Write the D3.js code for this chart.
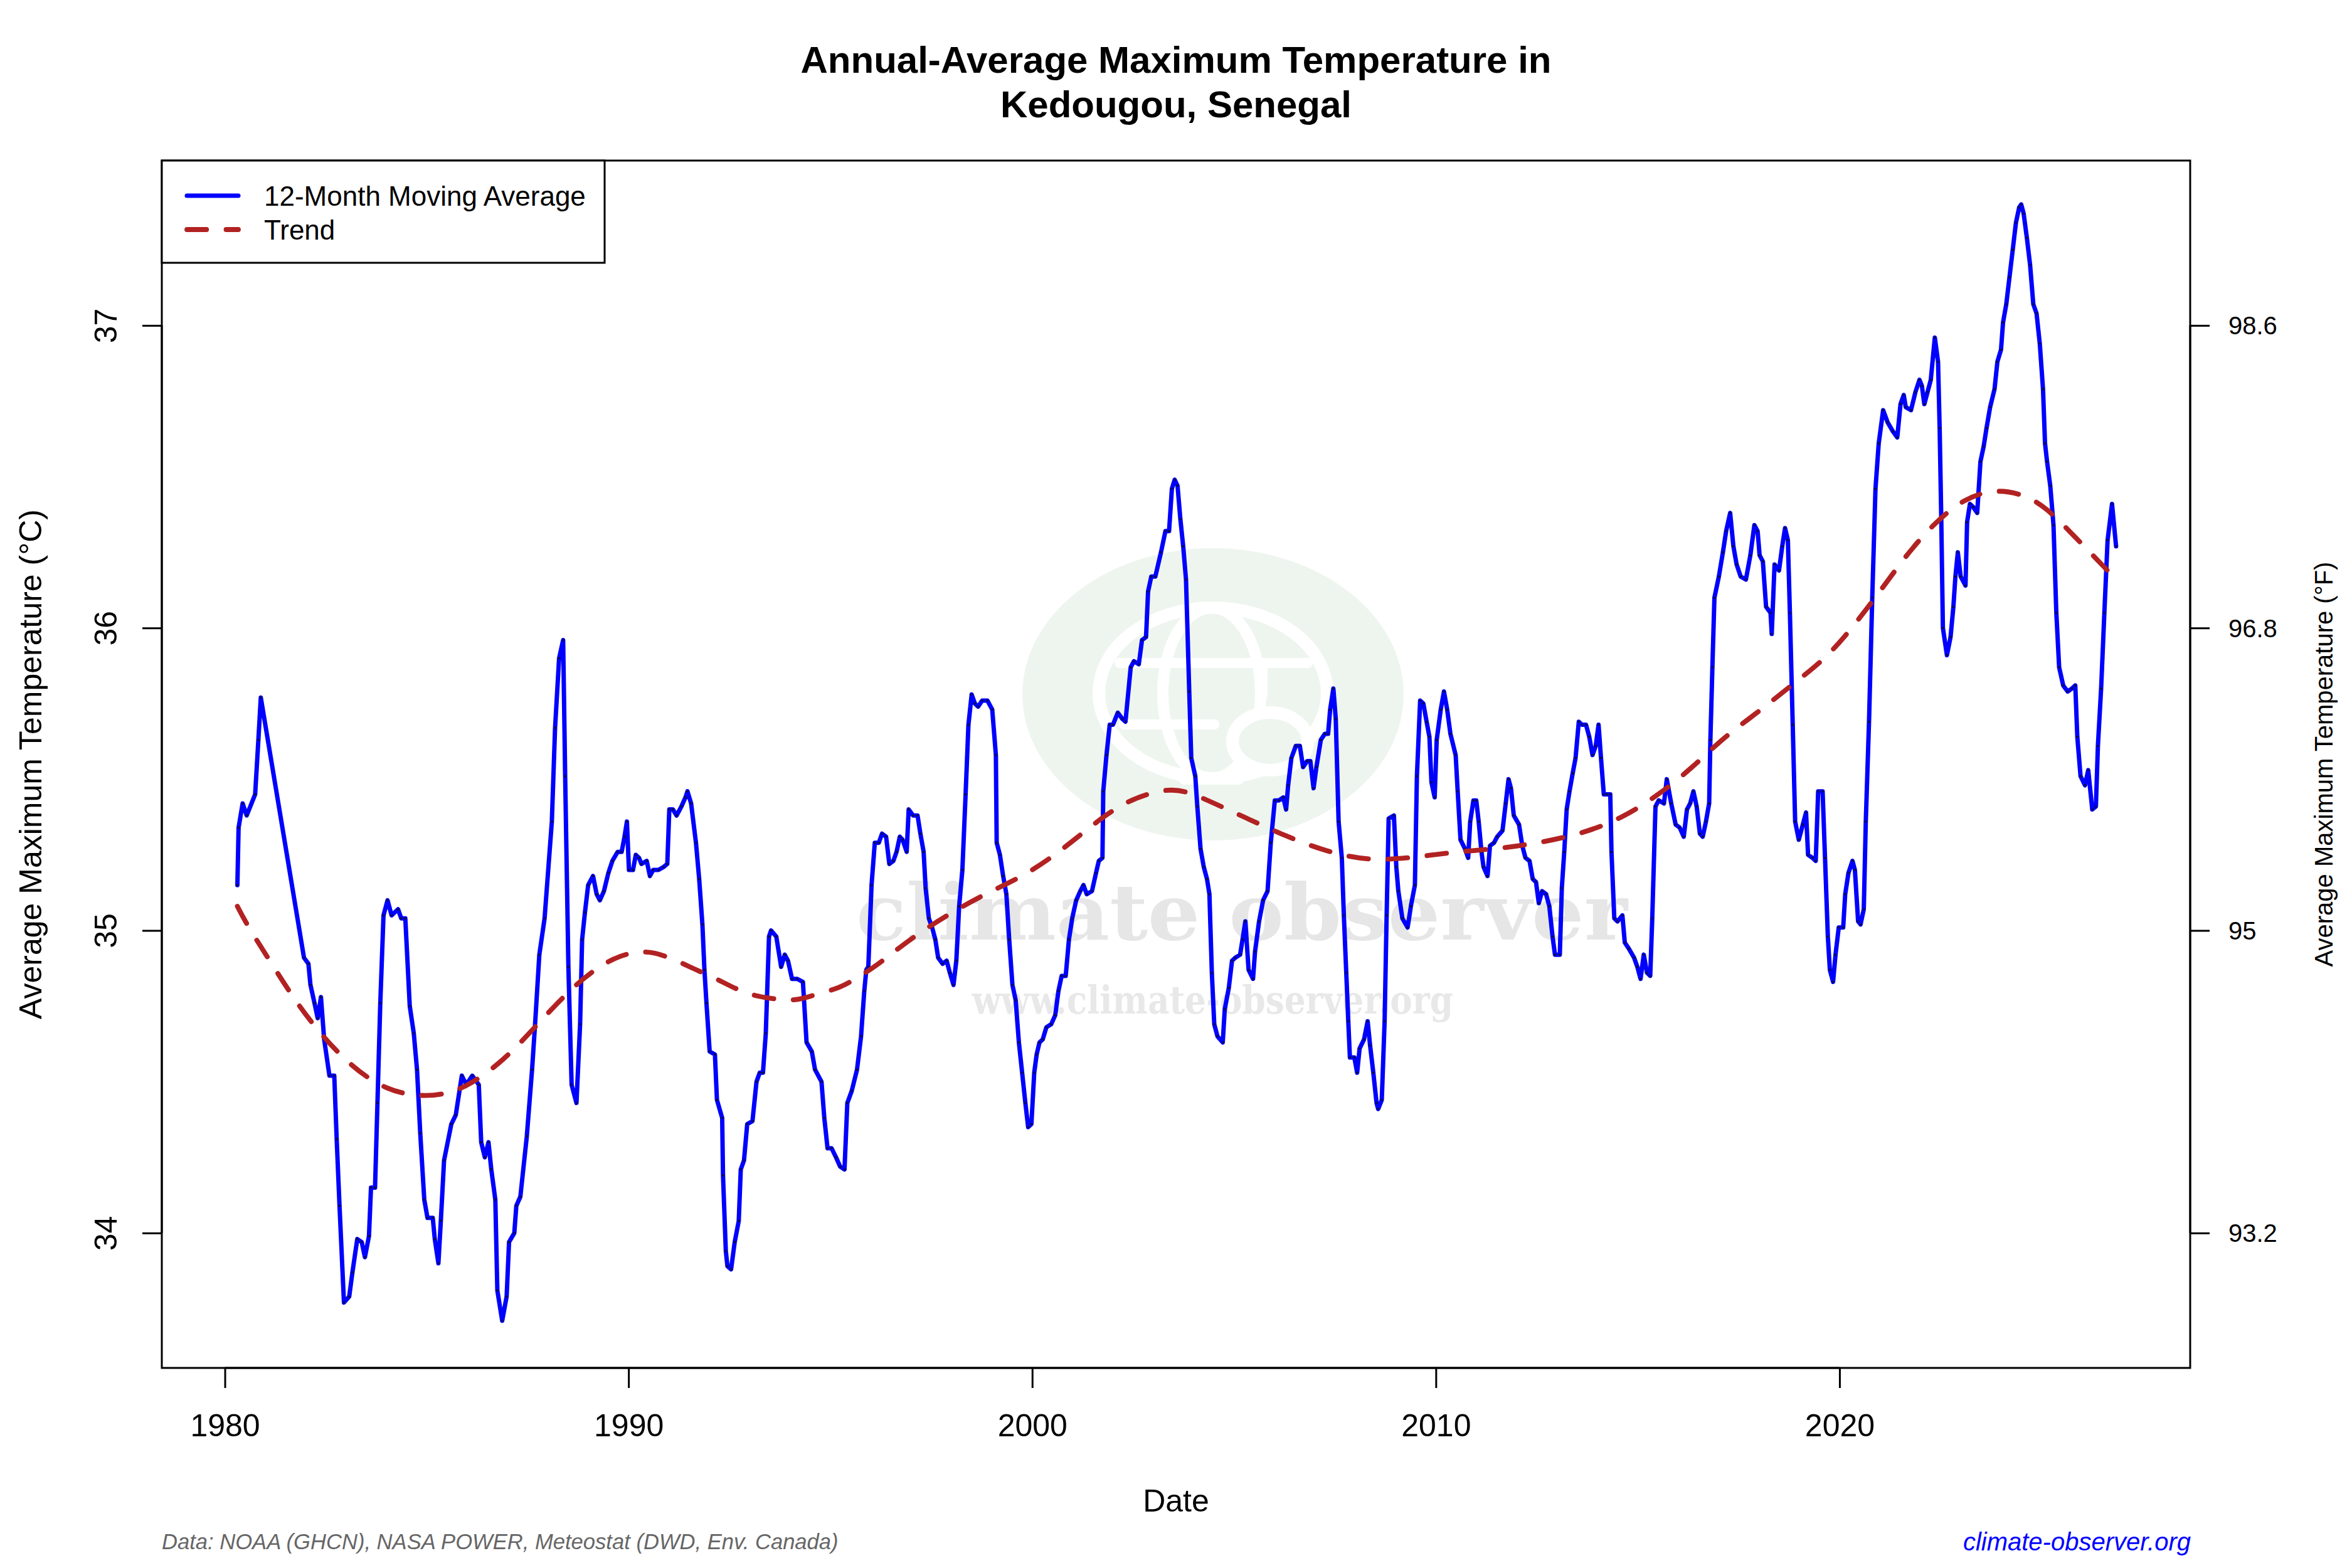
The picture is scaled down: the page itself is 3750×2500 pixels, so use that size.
<!DOCTYPE html>
<html>
<head>
<meta charset="utf-8">
<script src="https://cdn.jsdelivr.net/npm/d3@7"></script>
<style>
  html, body { margin: 0; padding: 0; background: #fff; }
  svg { display: block; }
  text { font-family: "Liberation Sans", Arial, Helvetica, sans-serif; }
</style>
</head>
<body>
<svg id="chart" width="3750" height="2500"></svg>
<script>
// 12-month moving average (decimal year, °C)
const years = [
  1980.31, 1980.34, 1980.44, 1980.54, 1980.75, 1980.83, 1980.89, 1981.96, 1982.07, 1982.12,
  1982.22, 1982.30, 1982.38, 1982.46, 1982.59, 1982.71, 1982.77, 1982.84, 1982.95, 1983.08,
  1983.16, 1983.28, 1983.39, 1983.47, 1983.57, 1983.62, 1983.72, 1983.78, 1983.85, 1983.93,
  1984.03, 1984.13, 1984.29, 1984.37, 1984.47, 1984.58, 1984.68, 1984.76, 1984.84, 1984.94,
  1985.02, 1985.15, 1985.20, 1985.29, 1985.35, 1985.43, 1985.61, 1985.72, 1985.87, 1985.98,
  1986.13, 1986.29, 1986.35, 1986.44, 1986.53, 1986.60, 1986.70, 1986.75, 1986.87, 1986.98,
  1987.04, 1987.17, 1987.22, 1987.32, 1987.48, 1987.61, 1987.68, 1987.79, 1987.92, 1988.10,
  1988.18, 1988.28, 1988.38, 1988.43, 1988.51, 1988.59, 1988.71, 1988.80, 1988.85, 1988.92,
  1989.00, 1989.12, 1989.21, 1989.29, 1989.39, 1989.50, 1989.60, 1989.73, 1989.83, 1989.90,
  1989.96, 1990.01, 1990.11, 1990.18, 1990.26, 1990.32, 1990.45, 1990.53, 1990.61, 1990.74,
  1990.87, 1990.96, 1991.01, 1991.10, 1991.19, 1991.31, 1991.41, 1991.46, 1991.55, 1991.67,
  1991.75, 1991.83, 1991.88, 1991.93, 1992.01, 1992.14, 1992.19, 1992.32, 1992.34, 1992.41,
  1992.45, 1992.54, 1992.63, 1992.73, 1992.78, 1992.86, 1992.94, 1993.07, 1993.17, 1993.25,
  1993.33, 1993.40, 1993.48, 1993.53, 1993.66, 1993.78, 1993.87, 1993.95, 1994.05, 1994.18,
  1994.32, 1994.41, 1994.54, 1994.62, 1994.78, 1994.85, 1994.93, 1995.03, 1995.14, 1995.24,
  1995.35, 1995.42, 1995.53, 1995.66, 1995.76, 1995.84, 1995.89, 1995.94, 1996.02, 1996.10,
  1996.20, 1996.28, 1996.38, 1996.46, 1996.56, 1996.64, 1996.72, 1996.79, 1996.89, 1996.94,
  1997.05, 1997.16, 1997.23, 1997.31, 1997.36, 1997.44, 1997.52, 1997.60, 1997.67, 1997.78,
  1997.88, 1997.96, 1998.05, 1998.12, 1998.19, 1998.27, 1998.35, 1998.42, 1998.50, 1998.58,
  1998.66, 1998.76, 1998.89, 1999.01, 1999.10, 1999.12, 1999.20, 1999.28, 1999.36, 1999.43,
  1999.51, 1999.59, 1999.67, 1999.75, 1999.83, 1999.90, 1999.98, 2000.05, 2000.11, 2000.18,
  2000.26, 2000.35, 2000.47, 2000.57, 2000.65, 2000.73, 2000.83, 2000.91, 2000.99, 2001.09,
  2001.19, 2001.27, 2001.35, 2001.48, 2001.58, 2001.65, 2001.74, 2001.76, 2001.84, 2001.92,
  2002.00, 2002.12, 2002.23, 2002.31, 2002.44, 2002.52, 2002.64, 2002.72, 2002.82, 2002.87,
  2002.95, 2003.05, 2003.19, 2003.30, 2003.39, 2003.46, 2003.53, 2003.60, 2003.67, 2003.74,
  2003.81, 2003.89, 2003.94, 2004.04, 2004.09, 2004.17, 2004.25, 2004.33, 2004.39, 2004.45,
  2004.51, 2004.59, 2004.72, 2004.77, 2004.87, 2004.95, 2005.03, 2005.15, 2005.21, 2005.28,
  2005.36, 2005.47, 2005.52, 2005.62, 2005.72, 2005.83, 2005.91, 2006.01, 2006.11, 2006.22,
  2006.29, 2006.34, 2006.42, 2006.53, 2006.63, 2006.71, 2006.81, 2006.89, 2006.97, 2007.04,
  2007.15, 2007.25, 2007.33, 2007.38, 2007.46, 2007.52, 2007.59, 2007.67, 2007.72, 2007.78,
  2007.83, 2007.87, 2007.98, 2008.05, 2008.11, 2008.22, 2008.31, 2008.37, 2008.45, 2008.53,
  2008.57, 2008.66, 2008.73, 2008.78, 2008.83, 2008.96, 2009.02, 2009.07, 2009.17, 2009.30,
  2009.38, 2009.48, 2009.53, 2009.61, 2009.69, 2009.77, 2009.84, 2009.89, 2009.97, 2010.02,
  2010.12, 2010.20, 2010.28, 2010.36, 2010.49, 2010.54, 2010.61, 2010.72, 2010.80, 2010.85,
  2010.93, 2011.00, 2011.06, 2011.13, 2011.18, 2011.28, 2011.34, 2011.44, 2011.52, 2011.65,
  2011.73, 2011.80, 2011.86, 2011.93, 2012.06, 2012.14, 2012.22, 2012.32, 2012.40, 2012.48,
  2012.55, 2012.63, 2012.73, 2012.81, 2012.89, 2012.95, 2013.07, 2013.12, 2013.18, 2013.24,
  2013.31, 2013.39, 2013.46, 2013.54, 2013.62, 2013.72, 2013.80, 2013.88, 2013.96, 2014.03,
  2014.09, 2014.16, 2014.24, 2014.32, 2014.35, 2014.42, 2014.50, 2014.62, 2014.68, 2014.78,
  2014.91, 2014.99, 2015.07, 2015.15, 2015.23, 2015.31, 2015.36, 2015.44, 2015.52, 2015.65,
  2015.72, 2015.83, 2015.94, 2016.04, 2016.14, 2016.22, 2016.30, 2016.38, 2016.46, 2016.54,
  2016.61, 2016.69, 2016.77, 2016.80, 2016.85, 2016.90, 2017.01, 2017.11, 2017.19, 2017.29,
  2017.37, 2017.45, 2017.55, 2017.68, 2017.79, 2017.89, 2017.97, 2018.02, 2018.10, 2018.18,
  2018.29, 2018.32, 2018.39, 2018.50, 2018.58, 2018.65, 2018.72, 2018.77, 2018.84, 2018.90,
  2018.99, 2019.09, 2019.17, 2019.22, 2019.33, 2019.41, 2019.47, 2019.58, 2019.64, 2019.71,
  2019.76, 2019.84, 2019.90, 2019.98, 2020.09, 2020.14, 2020.22, 2020.32, 2020.38, 2020.46,
  2020.52, 2020.60, 2020.65, 2020.73, 2020.81, 2020.89, 2020.97, 2021.08, 2021.19, 2021.32,
  2021.43, 2021.51, 2021.59, 2021.64, 2021.77, 2021.88, 2021.98, 2022.04, 2022.10, 2022.18,
  2022.26, 2022.36, 2022.44, 2022.48, 2022.52, 2022.56, 2022.66, 2022.75, 2022.82, 2022.87,
  2022.93, 2023.00, 2023.12, 2023.16, 2023.23, 2023.31, 2023.41, 2023.49, 2023.57, 2023.64,
  2023.73, 2023.84, 2023.91, 2024.00, 2024.05, 2024.13, 2024.21, 2024.29, 2024.37, 2024.45,
  2024.50, 2024.56, 2024.64, 2024.72, 2024.80, 2024.88, 2024.96, 2025.04, 2025.09, 2025.14,
  2025.22, 2025.30, 2025.37, 2025.44, 2025.54, 2025.65, 2025.76, 2025.84, 2025.89, 2025.97,
  2026.08, 2026.16, 2026.26, 2026.35, 2026.40, 2026.48, 2026.56, 2026.64, 2026.75, 2026.85
];
const tempC = [
  35.15, 35.34, 35.42, 35.38, 35.45, 35.63, 35.77, 34.91, 34.89, 34.82,
  34.76, 34.71, 34.78, 34.64, 34.52, 34.52, 34.31, 34.09, 33.77, 33.79,
  33.87, 33.98, 33.97, 33.92, 33.99, 34.15, 34.15, 34.43, 34.76, 35.05,
  35.10, 35.05, 35.07, 35.04, 35.04, 34.75, 34.66, 34.54, 34.33, 34.11,
  34.05, 34.05, 33.98, 33.90, 34.04, 34.24, 34.36, 34.39, 34.52, 34.49,
  34.52, 34.49, 34.30, 34.25, 34.30, 34.21, 34.11, 33.81, 33.71, 33.79,
  33.97, 34.00, 34.09, 34.12, 34.32, 34.54, 34.68, 34.92, 35.04, 35.36,
  35.67, 35.90, 35.96, 35.51, 34.88, 34.49, 34.43, 34.69, 34.97, 35.06,
  35.15, 35.18, 35.12, 35.10, 35.13, 35.19, 35.23, 35.26, 35.26, 35.31,
  35.36, 35.20, 35.20, 35.25, 35.24, 35.22, 35.23, 35.18, 35.20, 35.20,
  35.21, 35.22, 35.40, 35.40, 35.38, 35.41, 35.44, 35.46, 35.42, 35.29,
  35.17, 35.02, 34.87, 34.76, 34.60, 34.59, 34.44, 34.38, 34.19, 33.94,
  33.89, 33.88, 33.97, 34.04, 34.21, 34.24, 34.36, 34.37, 34.50, 34.53,
  34.53, 34.66, 34.98, 35.00, 34.98, 34.88, 34.92, 34.90, 34.84, 34.84,
  34.83, 34.63, 34.60, 34.54, 34.50, 34.38, 34.28, 34.28, 34.25, 34.22,
  34.21, 34.43, 34.47, 34.54, 34.65, 34.80, 34.87, 34.88, 35.15, 35.29,
  35.29, 35.32, 35.31, 35.22, 35.23, 35.26, 35.31, 35.30, 35.26, 35.40,
  35.38, 35.38, 35.32, 35.26, 35.14, 35.04, 35.01, 34.97, 34.91, 34.89,
  34.90, 34.86, 34.82, 34.90, 35.08, 35.20, 35.45, 35.68, 35.78, 35.75,
  35.74, 35.76, 35.76, 35.73, 35.58, 35.29, 35.25, 35.18, 35.12, 34.97,
  34.82, 34.77, 34.63, 34.53, 34.43, 34.35, 34.36, 34.53, 34.59, 34.63,
  34.64, 34.68, 34.69, 34.72, 34.80, 34.85, 34.85, 34.97, 35.04, 35.10,
  35.13, 35.15, 35.12, 35.13, 35.19, 35.23, 35.24, 35.46, 35.58, 35.68,
  35.68, 35.72, 35.70, 35.69, 35.87, 35.89, 35.88, 35.96, 35.97, 36.12,
  36.17, 36.17, 36.25, 36.32, 36.32, 36.46, 36.49, 36.47, 36.36, 36.27,
  36.16, 35.79, 35.57, 35.51, 35.41, 35.27, 35.21, 35.17, 35.12, 34.86,
  34.69, 34.65, 34.63, 34.74, 34.81, 34.90, 34.91, 34.92, 34.97, 35.03,
  34.87, 34.84, 34.93, 35.03, 35.10, 35.13, 35.29, 35.43, 35.43, 35.44,
  35.40, 35.48, 35.57, 35.61, 35.61, 35.54, 35.56, 35.56, 35.47, 35.54,
  35.63, 35.65, 35.65, 35.73, 35.80, 35.70, 35.36, 35.24, 35.05, 34.86,
  34.70, 34.58, 34.58, 34.53, 34.61, 34.64, 34.70, 34.62, 34.53, 34.43,
  34.41, 34.44, 34.70, 35.05, 35.37, 35.38, 35.21, 35.13, 35.04, 35.01,
  35.08, 35.15, 35.51, 35.76, 35.75, 35.69, 35.64, 35.49, 35.44, 35.63,
  35.73, 35.79, 35.73, 35.65, 35.58, 35.46, 35.30, 35.27, 35.24, 35.36,
  35.43, 35.43, 35.36, 35.26, 35.21, 35.18, 35.28, 35.29, 35.31, 35.33,
  35.42, 35.50, 35.47, 35.38, 35.35, 35.28, 35.24, 35.23, 35.17, 35.16,
  35.09, 35.13, 35.12, 35.08, 34.98, 34.92, 34.92, 35.14, 35.26, 35.40,
  35.46, 35.52, 35.57, 35.69, 35.68, 35.68, 35.64, 35.58, 35.61, 35.68,
  35.57, 35.45, 35.45, 35.45, 35.26, 35.04, 35.03, 35.05, 34.96, 34.94,
  34.91, 34.88, 34.84, 34.92, 34.86, 34.85, 35.04, 35.41, 35.43, 35.42,
  35.50, 35.42, 35.35, 35.34, 35.31, 35.40, 35.42, 35.46, 35.41, 35.32,
  35.31, 35.36, 35.42, 35.63, 35.87, 36.10, 36.17, 36.25, 36.32, 36.38,
  36.27, 36.21, 36.17, 36.16, 36.24, 36.34, 36.32, 36.24, 36.22, 36.07,
  36.05, 35.98, 36.21, 36.19, 36.27, 36.33, 36.29, 36.05, 35.68, 35.36,
  35.30, 35.35, 35.39, 35.25, 35.24, 35.23, 35.46, 35.46, 35.24, 34.98,
  34.87, 34.83, 34.92, 35.01, 35.01, 35.12, 35.19, 35.23, 35.20, 35.03,
  35.02, 35.07, 35.36, 35.69, 36.10, 36.46, 36.61, 36.72, 36.68, 36.65,
  36.63, 36.74, 36.77, 36.73, 36.72, 36.78, 36.82, 36.80, 36.74, 36.78,
  36.82, 36.96, 36.88, 36.66, 36.36, 36.00, 35.91, 35.97, 36.07, 36.17,
  36.25, 36.17, 36.14, 36.35, 36.41, 36.40, 36.38, 36.55, 36.60, 36.66,
  36.73, 36.79, 36.88, 36.92, 37.01, 37.07, 37.16, 37.25, 37.34, 37.39,
  37.40, 37.37, 37.29, 37.20, 37.07, 37.04, 36.94, 36.79, 36.61, 36.55,
  36.47, 36.34, 36.05, 35.87, 35.81, 35.79, 35.80, 35.81, 35.64, 35.51,
  35.48, 35.53, 35.40, 35.41, 35.61, 35.80, 36.05, 36.29, 36.41, 36.27
];

// smooth trend line
const trendYears = [
  1980.31, 1980.54, 1981.16, 1981.73, 1982.35, 1983.13, 1984.01, 1984.89, 1985.51, 1986.08,
  1986.91, 1987.68, 1988.72, 1989.60, 1990.17, 1990.63, 1991.20, 1991.67, 1992.19, 1992.60,
  1993.17, 1993.90, 1994.20, 1994.67, 1995.24, 1995.61, 1996.12, 1996.95, 1997.88, 1998.81,
  1999.80, 2000.68, 2001.50, 2002.33, 2003.31, 2003.83, 2004.35, 2005.33, 2006.31, 2007.30,
  2008.33, 2009.42, 2010.46, 2011.55, 2012.58, 2013.62, 2014.60, 2015.54, 2016.37, 2017.14,
  2017.97, 2018.80, 2019.67, 2020.31, 2021.00, 2021.59, 2022.29, 2023.09, 2023.89, 2024.58,
  2025.11, 2025.84, 2026.64, 2026.85
];
const trendC = [
  35.08, 35.02, 34.89, 34.77, 34.66, 34.55, 34.47, 34.45, 34.46, 34.49,
  34.57, 34.68, 34.83, 34.91, 34.93, 34.93, 34.90, 34.87, 34.84, 34.81,
  34.78, 34.77, 34.77, 34.79, 34.81, 34.84, 34.88, 34.97, 35.05, 35.12,
  35.18, 35.26, 35.35, 35.43, 35.47, 35.46, 35.43, 35.37, 35.31, 35.26,
  35.23, 35.24, 35.26, 35.27, 35.29, 35.32, 35.37, 35.45, 35.54, 35.64,
  35.72, 35.81, 35.90, 36.00, 36.12, 36.23, 36.34, 36.43, 36.46, 36.44,
  36.40, 36.30, 36.19, 36.16
];

const xTicks = [1980, 1990, 2000, 2010, 2020];
const cTicks = [34, 35, 36, 37];
const fTicks = [93.2, 95, 96.8, 98.6];

const title = ["Annual-Average Maximum Temperature in", "Kedougou, Senegal"];
const legendLabels = ["12-Month Moving Average", "Trend"];

// layout
const width = 3750, height = 2500;
const plot = { left: 258, right: 3492, top: 256, bottom: 2181 };
const lineBlue = "#0000ff";
const trendRed = "#b22222";

const svg = d3.select("#chart");

const x = d3.scaleLinear().domain([1978.438, 2028.686]).range([plot.left, plot.right]);
const y = d3.scaleLinear().domain([33.554, 37.545]).range([plot.bottom, plot.top]);
const yF = d3.scaleLinear().domain(y.domain().map(c => c * 9 / 5 + 32)).range(y.range());

// watermark
const wm = svg.append("g").attr("class", "watermark");
wm.append("ellipse").attr("cx", 1934).attr("cy", 1107).attr("rx", 304).attr("ry", 233)
  .attr("fill", "#eef5ef");
const globe = wm.append("g").attr("fill", "none").attr("stroke", "#ffffff")
  .attr("stroke-linecap", "round");
globe.append("ellipse").attr("cx", 1934).attr("cy", 1105).attr("rx", 182).attr("ry", 136)
  .attr("stroke-width", 20);
globe.append("ellipse").attr("cx", 1932).attr("cy", 1105).attr("rx", 78).attr("ry", 136)
  .attr("stroke-width", 18);
globe.append("line").attr("x1", 1785).attr("x2", 2085).attr("y1", 1057).attr("y2", 1057)
  .attr("stroke-width", 16);
globe.append("line").attr("x1", 1792).attr("x2", 1936).attr("y1", 1155).attr("y2", 1155)
  .attr("stroke-width", 16);
globe.append("line").attr("x1", 2013).attr("x2", 2013).attr("y1", 1057).attr("y2", 1108)
  .attr("stroke-width", 16);
globe.append("ellipse").attr("cx", 2025).attr("cy", 1182).attr("rx", 60).attr("ry", 46)
  .attr("stroke-width", 20).attr("fill", "#eef5ef");
globe.append("line").attr("x1", 1888).attr("x2", 1975).attr("y1", 1243).attr("y2", 1243)
  .attr("stroke-width", 16);

wm.append("text").attr("x", 1365).attr("y", 1498)
  .attr("textLength", 1230).attr("lengthAdjust", "spacingAndGlyphs")
  .style("font-family", "'DejaVu Serif', serif").style("font-weight", "bold")
  .style("font-size", "124px").attr("fill", "#e6e6e6")
  .text("climate observer");
wm.append("text").attr("x", 1550).attr("y", 1616)
  .attr("textLength", 767).attr("lengthAdjust", "spacingAndGlyphs")
  .style("font-family", "'DejaVu Serif', serif").style("font-weight", "bold")
  .style("font-size", "62px").attr("fill", "#e8e8e8")
  .text("www.climate-observer.org");

// data lines
const series = years.map((yr, i) => ({ yr, c: tempC[i] }));
const trend = trendYears.map((yr, i) => ({ yr, c: trendC[i] }));

const line = d3.line().x(d => x(d.yr)).y(d => y(d.c));

svg.append("path").datum(series)
  .attr("d", line)
  .attr("fill", "none").attr("stroke", lineBlue).attr("stroke-width", 7)
  .attr("stroke-linejoin", "round").attr("stroke-linecap", "round");

svg.append("g").selectAll("circle").data(series).join("circle")
  .attr("cx", d => x(d.yr)).attr("cy", d => y(d.c)).attr("r", 2)
  .attr("fill", "#111").attr("opacity", 0.75);

svg.append("path").datum(trend)
  .attr("d", line.curve(d3.curveBasis))
  .attr("fill", "none").attr("stroke", trendRed).attr("stroke-width", 7.8)
  .attr("stroke-dasharray", "31.25,31.25").attr("stroke-linecap", "round");

// frame
svg.append("rect").attr("x", plot.left).attr("y", plot.top)
  .attr("width", plot.right - plot.left).attr("height", plot.bottom - plot.top)
  .attr("fill", "none").attr("stroke", "#000").attr("stroke-width", 3);

// bottom axis
const gx = svg.append("g").attr("transform", `translate(0,${plot.bottom})`)
  .call(d3.axisBottom(x).tickValues(xTicks).tickSize(32).tickSizeOuter(0).tickFormat(d3.format("d")))
  .attr("font-size", null).attr("font-family", null);
gx.select(".domain").remove();
gx.selectAll(".tick line").attr("stroke", "#000").attr("stroke-width", 3);
gx.selectAll(".tick text").attr("y", 109).attr("dy", null)
  .style("font-size", "50px").attr("fill", "#000");
gx.append("line").attr("x1", x(xTicks[0])).attr("x2", x(xTicks[xTicks.length - 1]))
  .attr("stroke", "#000").attr("stroke-width", 3);

// left axis (°C)
const gy = svg.append("g").attr("transform", `translate(${plot.left},0)`)
  .call(d3.axisLeft(y).tickValues(cTicks).tickSize(31).tickSizeOuter(0).tickFormat(d3.format("d")))
  .attr("font-size", null).attr("font-family", null);
gy.select(".domain").remove();
gy.selectAll(".tick line").attr("stroke", "#000").attr("stroke-width", 3);
gy.selectAll(".tick text").attr("x", 0).attr("dy", null)
  .attr("transform", "translate(-72,0) rotate(-90)")
  .attr("text-anchor", "middle").style("font-size", "50px").attr("fill", "#000");
gy.append("line").attr("y1", y(cTicks[0])).attr("y2", y(cTicks[cTicks.length - 1]))
  .attr("stroke", "#000").attr("stroke-width", 3);

// right axis (°F)
const gf = svg.append("g").attr("transform", `translate(${plot.right},0)`)
  .call(d3.axisRight(yF).tickValues(fTicks).tickSize(31).tickSizeOuter(0).tickFormat(d => String(d)))
  .attr("font-size", null).attr("font-family", null);
gf.select(".domain").remove();
gf.selectAll(".tick line").attr("stroke", "#000").attr("stroke-width", 3);
gf.selectAll(".tick text").attr("x", 61).attr("dy", "0.35em")
  .attr("text-anchor", "start").style("font-size", "40px").attr("fill", "#000");
gf.append("line").attr("y1", yF(fTicks[0])).attr("y2", yF(fTicks[fTicks.length - 1]))
  .attr("stroke", "#000").attr("stroke-width", 3);

// axis titles
const midY = (plot.top + plot.bottom) / 2;
const midX = (plot.left + plot.right) / 2;
svg.append("text").attr("transform", `translate(66,${midY}) rotate(-90)`)
  .attr("text-anchor", "middle").style("font-size", "50px")
  .text("Average Maximum Temperature (°C)");
svg.append("text").attr("transform", `translate(3719,${midY}) rotate(-90)`)
  .attr("text-anchor", "middle").style("font-size", "40px")
  .text("Average Maximum Temperature (°F)");
svg.append("text").attr("x", midX).attr("y", 2410)
  .attr("text-anchor", "middle").style("font-size", "50px").text("Date");

// title
svg.append("g").selectAll("text").data(title).join("text")
  .attr("x", midX).attr("y", (d, i) => 116 + i * 71)
  .attr("text-anchor", "middle").style("font-size", "60px").style("font-weight", "bold")
  .text(d => d);

// legend
const lg = svg.append("g");
lg.append("rect").attr("x", plot.left).attr("y", plot.top).attr("width", 706).attr("height", 163)
  .attr("fill", "#fff").attr("stroke", "#000").attr("stroke-width", 3);
lg.append("line").attr("x1", 298).attr("x2", 380).attr("y1", 312).attr("y2", 312)
  .attr("stroke", lineBlue).attr("stroke-width", 7).attr("stroke-linecap", "round");
lg.append("line").attr("x1", 298).attr("x2", 380).attr("y1", 366).attr("y2", 366)
  .attr("stroke", trendRed).attr("stroke-width", 7.8).attr("stroke-linecap", "round")
  .attr("stroke-dasharray", "31.25,31.25");
lg.selectAll("text.lab").data(legendLabels).join("text").attr("class", "lab")
  .attr("x", 421).attr("y", (d, i) => 328 + i * 54)
  .style("font-size", "44px").text(d => d);

// footer
svg.append("text").attr("x", plot.left).attr("y", 2470)
  .style("font-size", "34.6px").style("font-style", "italic").attr("fill", "#666666")
  .text("Data: NOAA (GHCN), NASA POWER, Meteostat (DWD, Env. Canada)");
svg.append("text").attr("x", plot.right + 1).attr("y", 2472).attr("text-anchor", "end")
  .style("font-size", "40px").style("font-style", "italic").attr("fill", "#0000ff")
  .text("climate-observer.org");
</script>
</body>
</html>
